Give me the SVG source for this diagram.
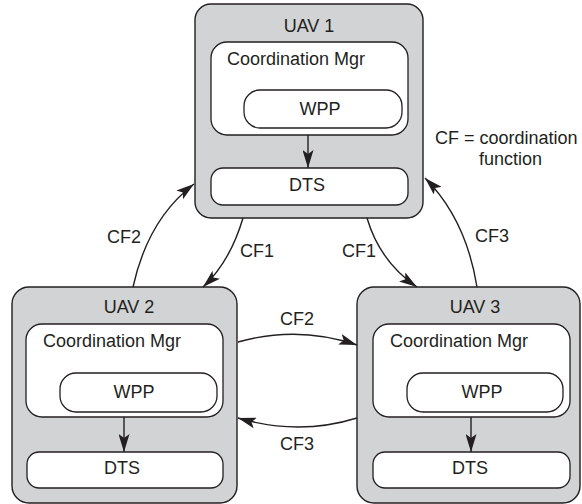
<svg xmlns="http://www.w3.org/2000/svg" width="582" height="504" viewBox="0 0 582 504">
<defs>
<style>
.outer{fill:#d1d3d4;stroke:#231f20;stroke-width:1.4}
.inner{fill:#ffffff;stroke:#231f20;stroke-width:1.3}
.t{font-family:"Liberation Sans",Arial,Helvetica,sans-serif;font-size:18px;fill:#231f20}
.c{text-anchor:middle}
.conn{fill:none;stroke:#231f20;stroke-width:1.4}
</style>
<marker id="ah" markerUnits="userSpaceOnUse" markerWidth="18" markerHeight="11" refX="18" refY="5.5" orient="auto" viewBox="0 0 18 11">
<path d="M0,0 L18,5.5 L0,11 L4,5.5 Z" fill="#231f20"/>
</marker>
</defs>
<rect width="582" height="504" fill="#ffffff"/>

<g id="uav1">
<rect class="outer" x="195" y="4" width="228" height="214" rx="16"/>
<text class="t c" x="309" y="32">UAV 1</text>
<rect class="inner" x="211" y="42" width="197" height="93" rx="16"/>
<text class="t" x="227" y="65">Coordination Mgr</text>
<rect class="inner" x="244" y="90" width="158" height="38" rx="16"/>
<text class="t c" x="320" y="115">WPP</text>
<rect class="inner" x="211" y="168" width="197" height="37" rx="12"/>
<text class="t c" x="307" y="191">DTS</text>
<line class="conn" x1="308" y1="135" x2="308" y2="168" marker-end="url(#ah)"/>
</g>

<g id="uav2">
<rect class="outer" x="12" y="287" width="225" height="216" rx="17"/>
<text class="t c" x="129" y="313">UAV 2</text>
<rect class="inner" x="26" y="324" width="197" height="93" rx="16"/>
<text class="t" x="43" y="347">Coordination Mgr</text>
<rect class="inner" x="60" y="373" width="157" height="39" rx="16"/>
<text class="t c" x="134" y="398">WPP</text>
<rect class="inner" x="27" y="452" width="196" height="36" rx="12"/>
<text class="t c" x="122" y="474">DTS</text>
<line class="conn" x1="124" y1="417" x2="124" y2="452" marker-end="url(#ah)"/>
</g>

<g id="uav3">
<rect class="outer" x="357" y="287" width="223" height="216" rx="17"/>
<text class="t c" x="475" y="313">UAV 3</text>
<rect class="inner" x="373" y="324" width="197" height="93" rx="16"/>
<text class="t" x="390" y="347">Coordination Mgr</text>
<rect class="inner" x="407" y="373" width="156" height="39" rx="16"/>
<text class="t c" x="482" y="398">WPP</text>
<rect class="inner" x="373" y="452" width="197" height="36" rx="12"/>
<text class="t c" x="470" y="474">DTS</text>
<line class="conn" x1="471" y1="417" x2="471" y2="452" marker-end="url(#ah)"/>
</g>

<g id="connectors">
<path class="conn" d="M133,287 Q148,219 194,184" marker-end="url(#ah)"/>
<path class="conn" d="M243,218 Q230,262 203,287" marker-end="url(#ah)"/>
<path class="conn" d="M367,218 Q380,262 417,287" marker-end="url(#ah)"/>
<path class="conn" d="M477,287 Q466,219 425,178" marker-end="url(#ah)"/>
<path class="conn" d="M238,342 Q298,325 357,345" marker-end="url(#ah)"/>
<path class="conn" d="M357,418 Q299,436 238,418" marker-end="url(#ah)"/>
</g>

<g id="labels">
<text class="t" x="107" y="243">CF2</text>
<text class="t" x="240" y="257">CF1</text>
<text class="t" x="342" y="257">CF1</text>
<text class="t" x="475" y="242">CF3</text>
<text class="t" x="280" y="325">CF2</text>
<text class="t" x="280" y="450">CF3</text>
<text class="t" x="435" y="144">CF = coordination</text>
<text class="t" x="479" y="165">function</text>
</g>
</svg>
